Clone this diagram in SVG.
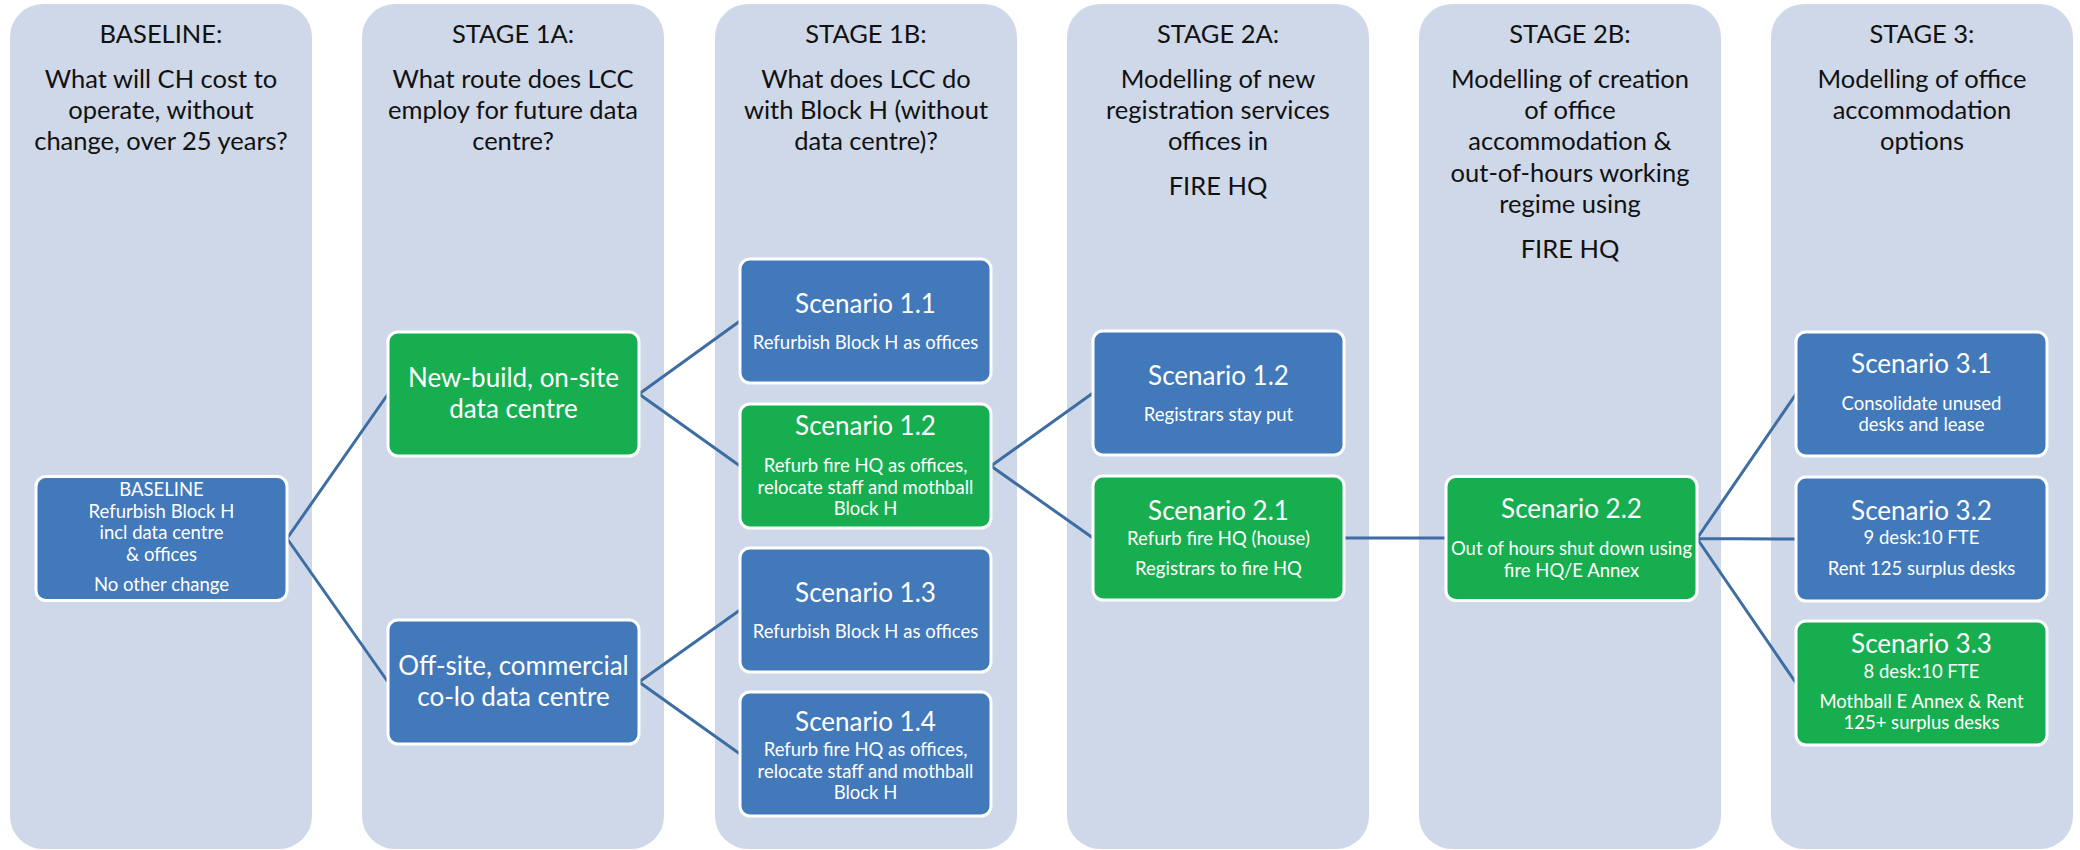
<svg xmlns="http://www.w3.org/2000/svg" width="2080" height="850" viewBox="0 0 2080 850">
<style>
  .panel { fill: #CED8E8; }
  .hd { font-family: Lato, "Liberation Sans", sans-serif; font-size: 25.5px; fill: #111; text-anchor: middle; }
  .blue { fill: #4279BB; stroke: #fff; stroke-width: 3; }
  .green { fill: #17AE4F; stroke: #fff; stroke-width: 3; }
  .t { font-family: Lato, "Liberation Sans", sans-serif; font-size: 26px; fill: #fff; text-anchor: middle; }
  .s { font-family: Lato, "Liberation Sans", sans-serif; font-size: 18.5px; fill: #fff; text-anchor: middle; }
  .conn { fill: none; stroke: #3D6DA3; stroke-width: 3; }
</style>
<rect width="2080" height="850" fill="#fff"/>

<g id="panel-baseline">
  <rect class="panel" x="10" y="4" width="302" height="845" rx="33"/>
  <text class="hd" x="161" y="43">BASELINE:</text>
  <text class="hd" x="161" y="88">What will CH cost to</text>
  <text class="hd" x="161" y="119">operate, without</text>
  <text class="hd" x="161" y="150">change, over 25 years?</text>
</g>
<g id="panel-stage1a">
  <rect class="panel" x="362" y="4" width="302" height="845" rx="33"/>
  <text class="hd" x="513" y="43">STAGE 1A:</text>
  <text class="hd" x="513" y="88">What route does LCC</text>
  <text class="hd" x="513" y="119">employ for future data</text>
  <text class="hd" x="513" y="150">centre?</text>
</g>
<g id="panel-stage1b">
  <rect class="panel" x="715" y="4" width="302" height="845" rx="33"/>
  <text class="hd" x="866" y="43">STAGE 1B:</text>
  <text class="hd" x="866" y="88">What does LCC do</text>
  <text class="hd" x="866" y="119">with Block H (without</text>
  <text class="hd" x="866" y="150">data centre)?</text>
</g>
<g id="panel-stage2a">
  <rect class="panel" x="1067" y="4" width="302" height="845" rx="33"/>
  <text class="hd" x="1218" y="43">STAGE 2A:</text>
  <text class="hd" x="1218" y="88">Modelling of new</text>
  <text class="hd" x="1218" y="119">registration services</text>
  <text class="hd" x="1218" y="150">offices in</text>
  <text class="hd" x="1218" y="195">FIRE HQ</text>
</g>
<g id="panel-stage2b">
  <rect class="panel" x="1419" y="4" width="302" height="845" rx="33"/>
  <text class="hd" x="1570" y="43">STAGE 2B:</text>
  <text class="hd" x="1570" y="88">Modelling of creation</text>
  <text class="hd" x="1570" y="119">of office</text>
  <text class="hd" x="1570" y="150">accommodation &amp;</text>
  <text class="hd" x="1570" y="182">out-of-hours working</text>
  <text class="hd" x="1570" y="213">regime using</text>
  <text class="hd" x="1570" y="258">FIRE HQ</text>
</g>
<g id="panel-stage3">
  <rect class="panel" x="1771" y="4" width="302" height="845" rx="33"/>
  <text class="hd" x="1922" y="43">STAGE 3:</text>
  <text class="hd" x="1922" y="88">Modelling of office</text>
  <text class="hd" x="1922" y="119">accommodation</text>
  <text class="hd" x="1922" y="150">options</text>
</g>

<g id="connectors">
  <path class="conn" d="M287,538.5 L388,394 M287,538.5 L388,682"/>
  <path class="conn" d="M639,394 L740,321 M639,394 L740,466"/>
  <path class="conn" d="M639,682 L740,610 M639,682 L740,754"/>
  <path class="conn" d="M991,466 L1093,393 M991,466 L1093,538"/>
  <path class="conn" d="M1344,538 L1446,538"/>
  <path class="conn" d="M1697,538.5 L1796,394 M1697,538.5 L1796,539 M1697,538.5 L1796,683"/>
</g>

<g id="node-baseline">
  <rect class="blue" x="36" y="476.5" width="251" height="124" rx="10"/>
  <text class="s" x="161.5" y="496">BASELINE</text>
  <text class="s" x="161.5" y="517.5">Refurbish Block H</text>
  <text class="s" x="161.5" y="539">incl data centre</text>
  <text class="s" x="161.5" y="560.5">&amp; offices</text>
  <text class="s" x="161.5" y="591">No other change</text>
</g>

<g id="node-newbuild">
  <rect class="green" x="388" y="332" width="251" height="124" rx="10"/>
  <text class="t" x="513.5" y="387">New-build, on-site</text>
  <text class="t" x="513.5" y="418">data centre</text>
</g>
<g id="node-offsite">
  <rect class="blue" x="388" y="620" width="251" height="124" rx="10"/>
  <text class="t" x="513.5" y="675">Off-site, commercial</text>
  <text class="t" x="513.5" y="706">co-lo data centre</text>
</g>

<g id="node-s11">
  <rect class="blue" x="740" y="259" width="251" height="124" rx="10"/>
  <text class="t" x="865.5" y="313">Scenario 1.1</text>
  <text class="s" x="865.5" y="349">Refurbish Block H as offices</text>
</g>
<g id="node-s12a">
  <rect class="green" x="740" y="404" width="251" height="124" rx="10"/>
  <text class="t" x="865.5" y="435">Scenario 1.2</text>
  <text class="s" x="865.5" y="472">Refurb fire HQ as offices,</text>
  <text class="s" x="865.5" y="494">relocate staff and mothball</text>
  <text class="s" x="865.5" y="515">Block H</text>
</g>
<g id="node-s13">
  <rect class="blue" x="740" y="548" width="251" height="124" rx="10"/>
  <text class="t" x="865.5" y="602">Scenario 1.3</text>
  <text class="s" x="865.5" y="638">Refurbish Block H as offices</text>
</g>
<g id="node-s14">
  <rect class="blue" x="740" y="692" width="251" height="124" rx="10"/>
  <text class="t" x="865.5" y="731">Scenario 1.4</text>
  <text class="s" x="865.5" y="756">Refurb fire HQ as offices,</text>
  <text class="s" x="865.5" y="778">relocate staff and mothball</text>
  <text class="s" x="865.5" y="799">Block H</text>
</g>

<g id="node-s12b">
  <rect class="blue" x="1093" y="331" width="251" height="124" rx="10"/>
  <text class="t" x="1218.5" y="385">Scenario 1.2</text>
  <text class="s" x="1218.5" y="421">Registrars stay put</text>
</g>
<g id="node-s21">
  <rect class="green" x="1093" y="476" width="251" height="124" rx="10"/>
  <text class="t" x="1218.5" y="520">Scenario 2.1</text>
  <text class="s" x="1218.5" y="545">Refurb fire HQ (house)</text>
  <text class="s" x="1218.5" y="575">Registrars to fire HQ</text>
</g>

<g id="node-s22">
  <rect class="green" x="1446" y="476.5" width="251" height="124" rx="10"/>
  <text class="t" x="1571.5" y="518">Scenario 2.2</text>
  <text class="s" x="1571.5" y="555">Out of hours shut down using</text>
  <text class="s" x="1571.5" y="577">fire HQ/E Annex</text>
</g>

<g id="node-s31">
  <rect class="blue" x="1796" y="332" width="251" height="124" rx="10"/>
  <text class="t" x="1921.5" y="373">Scenario 3.1</text>
  <text class="s" x="1921.5" y="410">Consolidate unused</text>
  <text class="s" x="1921.5" y="431">desks and lease</text>
</g>
<g id="node-s32">
  <rect class="blue" x="1796" y="477" width="251" height="124" rx="10"/>
  <text class="t" x="1921.5" y="520">Scenario 3.2</text>
  <text class="s" x="1921.5" y="544">9 desk:10 FTE</text>
  <text class="s" x="1921.5" y="575">Rent 125 surplus desks</text>
</g>
<g id="node-s33">
  <rect class="green" x="1796" y="621" width="251" height="124" rx="10"/>
  <text class="t" x="1921.5" y="653">Scenario 3.3</text>
  <text class="s" x="1921.5" y="678">8 desk:10 FTE</text>
  <text class="s" x="1921.5" y="708">Mothball E Annex &amp; Rent</text>
  <text class="s" x="1921.5" y="729">125+ surplus desks</text>
</g>
</svg>
